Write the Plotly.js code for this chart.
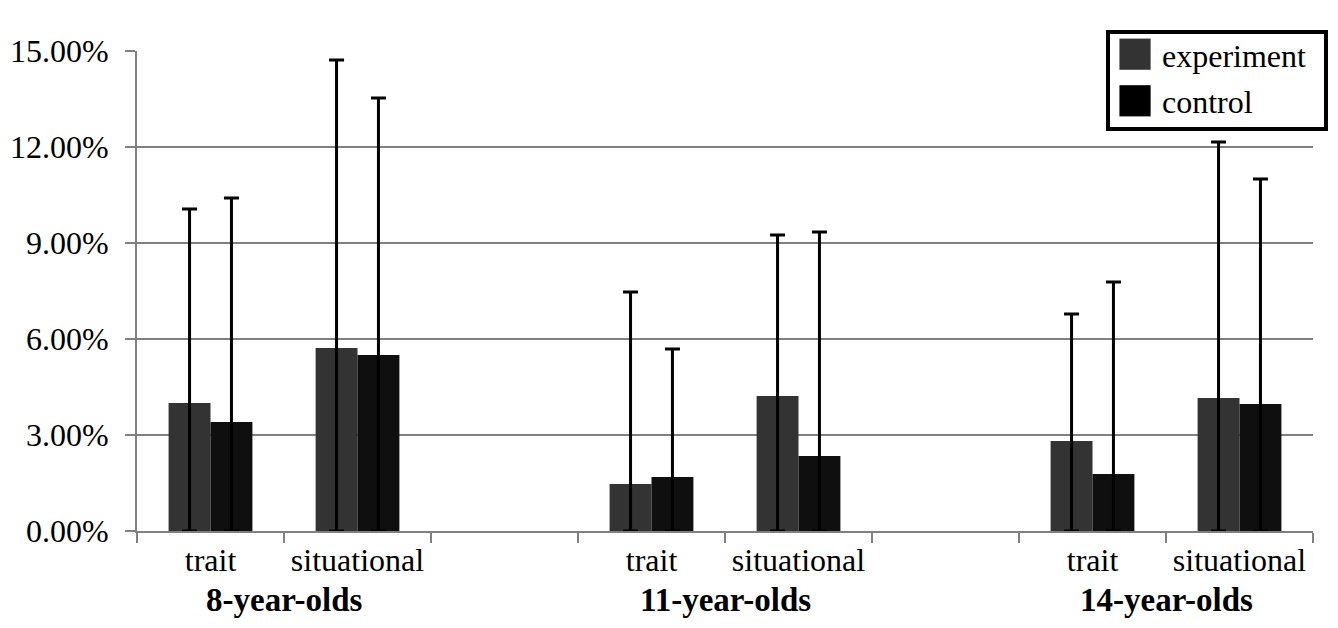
<!DOCTYPE html>
<html>
<head>
<meta charset="utf-8">
<script src="https://cdn.plot.ly/plotly-3.0.1.min.js"></script>
<style>
  html, body { margin: 0; padding: 0; background: #fff; }
  #chart { width: 1338px; height: 628px; }
</style>
</head>
<body>
<div id="chart"></div>
<script>
// ---- data ----
const groups = ['8-year-olds', '11-year-olds', '14-year-olds'];
const conditions = ['trait', 'situational'];
const seriesNames = ['experiment', 'control'];
// mean percentages, in order: 8 trait, 8 situational, 11 trait, 11 situational, 14 trait, 14 situational
const experimentMean  = [4.00, 5.72, 1.47, 4.22, 2.81, 4.16];
const experimentUpper = [10.06, 14.72, 7.47, 9.25, 6.78, 12.16];
const controlMean     = [3.41, 5.50, 1.69, 2.34, 1.78, 3.97];
const controlUpper    = [10.41, 13.53, 5.69, 9.34, 7.78, 11.00];
const yTickVals = [0, 3, 6, 9, 12, 15];

// ---- build categories (with an empty spacer slot between age groups) ----
const barKeys = [];
const allKeys = [];
const allText = [];
const groupCenters = [];
groups.forEach((g, gi) => {
  const start = allKeys.length;
  conditions.forEach(c => {
    const k = g + '|' + c;
    barKeys.push(k); allKeys.push(k); allText.push(c);
  });
  groupCenters.push(start + (conditions.length - 1) / 2);
  if (gi < groups.length - 1) { allKeys.push('gap' + gi); allText.push(''); }
});

const serif = 'Liberation Serif';
const FS = 32;

function errPlus(mean, upper) { return upper.map((u, i) => u - mean[i]); }

const traces = [
  {
    type: 'bar', name: seriesNames[0], x: barKeys, y: experimentMean,
    marker: { color: '#333333', line: { width: 0 } },
    error_y: { type: 'data', symmetric: false, array: errPlus(experimentMean, experimentUpper),
               arrayminus: experimentMean, color: '#000000', thickness: 3, width: 7.5 },
    hoverinfo: 'skip'
  },
  {
    type: 'bar', name: seriesNames[1], x: barKeys, y: controlMean,
    marker: { color: '#0f0f0f', line: { width: 0 } },
    error_y: { type: 'data', symmetric: false, array: errPlus(controlMean, controlUpper),
               arrayminus: controlMean, color: '#000000', thickness: 3, width: 7.5 },
    hoverinfo: 'skip'
  }
];

const annotations = groups.map((g, i) => ({
  text: '<b>' + g + '</b>', x: groupCenters[i], xref: 'x', y: -0.143, yref: 'paper',
  xanchor: 'center', yanchor: 'middle', showarrow: false,
  font: { family: serif, size: 33, color: '#000' }
}));

const layout = {
  width: 1338, height: 628,
  margin: { l: 137, r: 25, t: 51, b: 97, pad: 0, autoexpand: false },
  paper_bgcolor: '#ffffff', plot_bgcolor: '#ffffff',
  barmode: 'group', bargap: 0.43, bargroupgap: 0,
  font: { family: serif, size: FS, color: '#000' },
  showlegend: true,
  legend: {
    x: 0.824, y: 1.044, xanchor: 'left', yanchor: 'top',
    bgcolor: '#ffffff', bordercolor: '#000000', borderwidth: 4,
    font: { family: serif, size: FS, color: '#000' },
    itemwidth: 42, tracegroupgap: 0
  },
  xaxis: {
    type: 'category', categoryorder: 'array', categoryarray: allKeys,
    tickmode: 'array', tickvals: allKeys, ticktext: allText,
    tickson: 'boundaries', ticks: 'outside', ticklen: 10, tickwidth: 2, tickcolor: '#808080',
    showline: true, linecolor: '#808080', linewidth: 2,
    showgrid: false, zeroline: false, fixedrange: true,
    tickfont: { family: serif, size: FS, color: '#000' },
    range: [-0.5, allKeys.length - 0.5]
  },
  yaxis: {
    range: [0, 15], tickmode: 'array', tickvals: yTickVals,
    ticktext: yTickVals.map(v => v.toFixed(2) + '%'),
    ticks: 'outside', ticklen: 10, tickwidth: 2, tickcolor: '#808080',
    showline: true, linecolor: '#808080', linewidth: 2,
    showgrid: true, gridcolor: '#808080', gridwidth: 2,
    zeroline: false, fixedrange: true, ticklabelstandoff: 10,
    tickfont: { family: serif, size: FS, color: '#000' }
  },
  annotations: annotations
};

Plotly.newPlot('chart', traces, layout, { staticPlot: true, displayModeBar: false }).then(gd => {
  const pts = gd.querySelectorAll('.legend .legendpoints path');
  pts.forEach(p => p.setAttribute('transform', 'translate(25,0) scale(2.6)'));
  if (pts[1]) pts[1].style.fill = '#000000';
  // fine-tune legend box size and item spacing to the reference
  const bg = gd.querySelector('.legend rect.bg');
  if (bg) {
    bg.setAttribute('width', (+bg.getAttribute('width') + 12).toString());
    bg.setAttribute('height', (+bg.getAttribute('height') - 7).toString());
  }
  gd.querySelectorAll('.legend .traces').forEach((t, i) => {
    const m = /translate\(\s*([-\d.]+)[ ,]+([-\d.]+)\s*\)/.exec(t.getAttribute('transform') || '');
    if (m) t.setAttribute('transform', 'translate(' + m[1] + ',' + (+m[2] - 7 + i * 2) + ')');
  });
});
</script>
</body>
</html>
